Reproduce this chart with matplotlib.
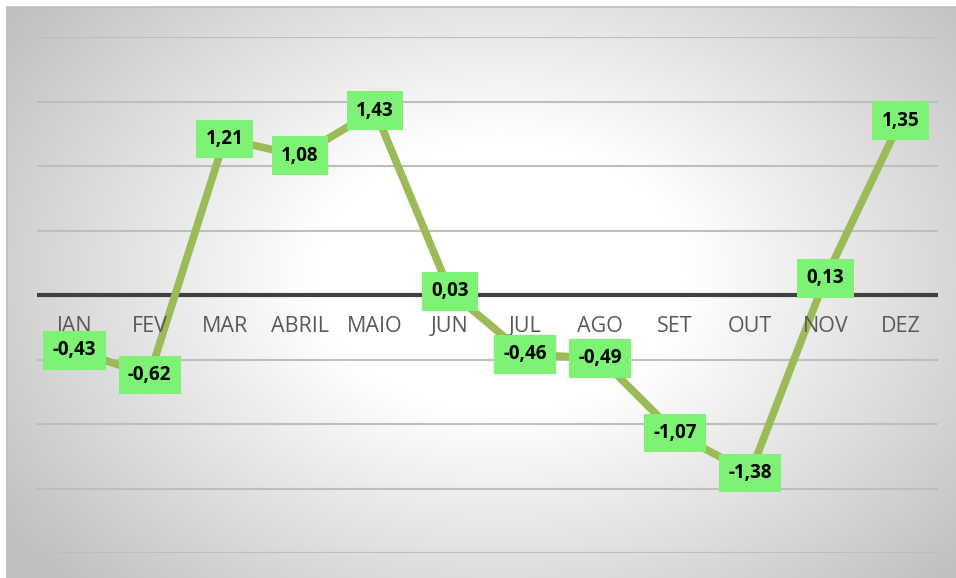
import numpy as np
import matplotlib
matplotlib.use("Agg")
import matplotlib.pyplot as plt

months = ["JAN", "FEV", "MAR", "ABRIL", "MAIO", "JUN", "JUL", "AGO", "SET", "OUT", "NOV", "DEZ"]
values = [-0.43, -0.62, 1.21, 1.08, 1.43, 0.03, -0.46, -0.49, -1.07, -1.38, 0.13, 1.35]
labels = ["-0,43", "-0,62", "1,21", "1,08", "1,43", "0,03", "-0,46", "-0,49", "-1,07", "-1,38", "0,13", "1,35"]

W, H = 956, 578
fig = plt.figure(figsize=(W / 100, H / 100), dpi=100)
fig.patch.set_facecolor("white")

# background radial gradient
bg = fig.add_axes([7 / W, 0, 1 - 7 / W, 1 - 7 / H])
ny, nx = 300, 500
yy, xx = np.mgrid[0:ny, 0:nx]
cx, cy = 0.52 * nx, 0.47 * ny
r = np.sqrt(((xx - cx) / (0.62 * nx)) ** 2 + ((yy - cy) / (0.75 * ny)) ** 2)
t = np.clip((r - 0.32) / 0.72, 0, 1)
g = 1.0 - 0.25 * t
img = np.dstack([g, g, g])
bg.imshow(img, aspect="auto", extent=[0, 1, 0, 1], origin="upper")
bg.set_xlim(0, 1)
bg.set_ylim(0, 1)
bg.set_xticks([])
bg.set_yticks([])
for s in ["right", "bottom"]:
    bg.spines[s].set_visible(False)
for s in ["left", "top"]:
    bg.spines[s].set_color("#BDBDBD")
    bg.spines[s].set_linewidth(1.2)

ax = fig.add_axes([37 / W, 1 - 553 / H, 901 / W, 516 / H])
ax.patch.set_alpha(0)
ax.set_xlim(-0.5, 11.5)
ax.set_ylim(-2, 2)
for s in ax.spines.values():
    s.set_visible(False)
ax.set_xticks([])
ax.set_yticks([])

for yv in np.arange(-2, 2.01, 0.5):
    if abs(yv) > 1e-9:
        ax.axhline(yv, color="#BEBEBE", lw=1.5, zorder=1)
ax.axhline(0, color="#404040", lw=3, zorder=2)

x = np.arange(len(months))
ax.plot(x, values, color="#9BBB59", lw=5.5, zorder=3, solid_capstyle="round")
ax.plot(x, values, "o", ms=25, color="#A8C063", mec="#A8C063", zorder=4)

for i, m in enumerate(months):
    ax.text(i, -0.245, m, ha="center", va="center", fontsize=15.5, color="#595959",
            family="Open Sans", zorder=5)

for i, (v, lab) in enumerate(zip(values, labels)):
    ax.text(i, v, lab, ha="center", va="center", fontsize=13.5, fontweight="bold",
            color="black", family="Open Sans", zorder=6,
            bbox=dict(boxstyle="square,pad=0.5", fc="#7EF275", ec="none"))

fig.savefig("out.png", dpi=100)
